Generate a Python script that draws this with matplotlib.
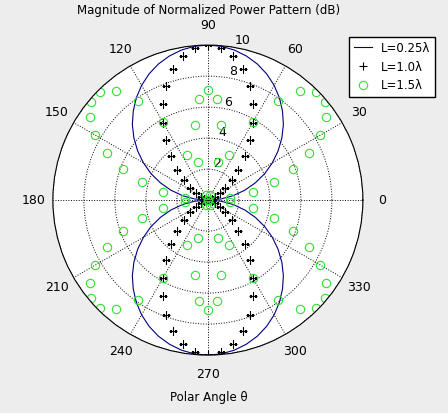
import numpy as np
import matplotlib.pyplot as plt

# angles (deg) for one quadrant, pattern is symmetric
ang_q = [0, 5, 10, 15, 20, 25, 30, 35, 40, 45, 50, 55, 60, 65, 70, 75, 80, 85, 90]
r_025 = [0, 0.87, 1.67, 2.47, 3.26, 4.05, 4.80, 5.53, 6.23, 6.89, 7.49, 8.05, 8.55, 8.98, 9.34, 9.62, 9.83, 9.96, 10]
r_10 = [0, 0.0, 0.03, 0.11, 0.26, 0.51, 0.87, 1.37, 2.00, 2.79, 3.69, 4.71, 5.77, 6.85, 7.86, 8.73, 9.42, 9.85, 10]
r_15 = [0, 1.46, 2.94, 4.40, 5.81, 7.18, 8.38, 9.31, 9.84, 9.84, 9.20, 7.84, 5.79, 3.19, 0.32, 2.52, 4.92, 6.52, 7.09]

def full(r):
    a = np.array(ang_q, float)
    r = np.array(r, float)
    A = np.concatenate([a, 180 - a[::-1][1:], 180 + a[1:], 360 - a[::-1][1:]])
    R = np.concatenate([r, r[::-1][1:], r[1:], r[::-1][1:]])
    return np.radians(A), R

fig = plt.figure(figsize=(4.48, 4.13), dpi=100, facecolor='#ededed')
ax = fig.add_axes([0.118, 0.140, 0.692, 0.751], projection='polar')
ax.set_facecolor('white')

t, r = full(r_025)
ax.plot(t, r, color='#000080', lw=0.8, label='L=0.25λ')
t, r = full(r_10)
ax.plot(t, r, 'k+', ms=6, mew=0.8, label='L=1.0λ')
t, r = full(r_15)
ax.plot(t, r, 'o', mfc='none', mec='#33dd33', ms=6, mew=0.8, label='L=1.5λ')

ax.set_ylim(0, 10)
ax.set_rticks([2, 4, 6, 8, 10])
ax.set_rlabel_position(80)
ax.set_thetagrids(range(0, 360, 30), [str(d) for d in range(0, 360, 30)], fontsize=9)
ax.tick_params(axis='y', labelsize=9)
ax.grid(True, color='black', ls=':', lw=0.7)
ax.spines['polar'].set_linewidth(0.8)

fig.text(0.465, 0.965, 'Magnitude of Normalized Power Pattern (dB)', ha='center', fontsize=8.5)
fig.text(0.465, 0.03, 'Polar Angle θ', ha='center', fontsize=8.5)
leg = fig.legend(loc='upper right', bbox_to_anchor=(0.985, 0.925), fontsize=8.5,
                 fancybox=False, framealpha=1, edgecolor='black', handlelength=1.5)
fig.savefig('out.png', dpi=100, facecolor=fig.get_facecolor())
